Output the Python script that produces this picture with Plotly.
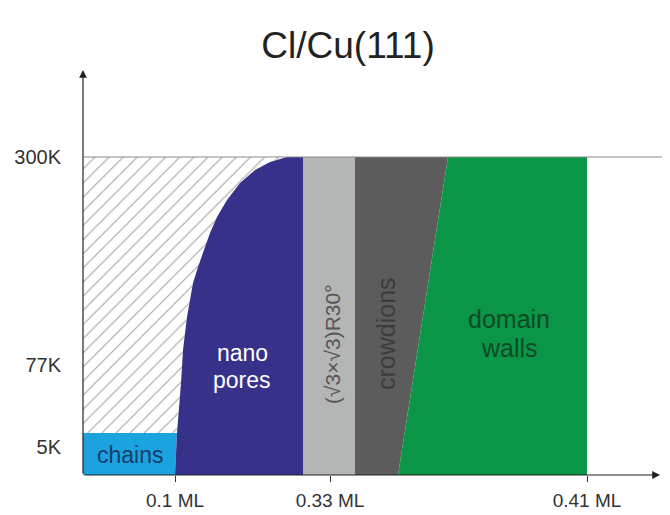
"""Schematic phase diagram of Cl/Cu(111): coverage vs temperature."""

import plotly.graph_objects as go

# schematic axis positions (arbitrary units)
X_TICK_POS = [92, 247, 504]
X_TICK_TEXT = ["0.1 ML", "0.33 ML", "0.41 ML"]
Y_TICK_POS = [318, 110, 28]
Y_TICK_TEXT = ["300K", "77K", "5K"]

T_TOP = 318          # 300K line
CHAIN_TOP = 42       # upper edge of the chains phase
X_END = 577          # end of coverage arrow
Y_END = 405          # end of temperature arrow

# left boundary of the nano pore phase (bottom -> top)
PORE_EDGE_X = [92, 94, 98, 100, 104, 110, 115, 121, 127, 134, 144, 157, 172, 187, 204]
PORE_EDGE_Y = [0, 42, 92, 125, 158, 192, 208, 225, 242, 258, 275, 292, 305, 313, 318]

X_PORE_RIGHT = 220
X_R30_RIGHT = 272
CROWD_EDGE_BOTTOM = 315
CROWD_EDGE_TOP = 365
X_DOMAIN_RIGHT = 504

FONT = "Arial, Liberation Sans, sans-serif"

# the page body adds an 8 px margin, so the figure is drawn 8 px smaller
W, H = 662, 507

fig = go.Figure()

# hatched (disordered) region
fig.add_trace(go.Scatter(
    x=[0, 0] + PORE_EDGE_X[1:][::-1],
    y=[CHAIN_TOP, T_TOP] + PORE_EDGE_Y[1:][::-1],
    fill="toself", mode="lines", line=dict(width=0, color="rgba(0,0,0,0)"),
    fillcolor="white",
    fillpattern=dict(shape="/", size=10, solidity=0.11, fgcolor="#444", bgcolor="white"),
    hoverinfo="skip", showlegend=False,
))

# chains
fig.add_trace(go.Scatter(
    x=[0, PORE_EDGE_X[0], PORE_EDGE_X[1], 0], y=[0, 0, CHAIN_TOP, CHAIN_TOP],
    fill="toself", mode="lines", line=dict(width=0), fillcolor="#1aa3df",
    hoverinfo="skip", showlegend=False,
))

# nano pores
fig.add_trace(go.Scatter(
    x=PORE_EDGE_X + [X_PORE_RIGHT, X_PORE_RIGHT],
    y=PORE_EDGE_Y + [T_TOP, 0],
    fill="toself", mode="lines", line=dict(width=0),
    fillcolor="#37318a", hoverinfo="skip", showlegend=False,
))

# (sqrt3 x sqrt3)R30
fig.add_trace(go.Scatter(
    x=[X_PORE_RIGHT, X_R30_RIGHT, X_R30_RIGHT, X_PORE_RIGHT], y=[0, 0, T_TOP, T_TOP],
    fill="toself", mode="lines", line=dict(width=0), fillcolor="#b4b6b5",
    hoverinfo="skip", showlegend=False,
))

# crowdions
fig.add_trace(go.Scatter(
    x=[X_R30_RIGHT, CROWD_EDGE_BOTTOM, CROWD_EDGE_TOP, X_R30_RIGHT], y=[0, 0, T_TOP, T_TOP],
    fill="toself", mode="lines", line=dict(width=0), fillcolor="#5c5c5c",
    hoverinfo="skip", showlegend=False,
))

# domain walls
fig.add_trace(go.Scatter(
    x=[CROWD_EDGE_BOTTOM, X_DOMAIN_RIGHT, X_DOMAIN_RIGHT, CROWD_EDGE_TOP],
    y=[0, 0, T_TOP, T_TOP],
    fill="toself", mode="lines", line=dict(width=0), fillcolor="#0a9646",
    hoverinfo="skip", showlegend=False,
))

# 300K line
fig.add_trace(go.Scatter(
    x=[0, 587], y=[T_TOP, T_TOP], mode="lines",
    line=dict(color="#8a8a8a", width=1), hoverinfo="skip", showlegend=False,
))

# axes with arrows
for tx, ty in [(X_END, 0), (0, Y_END)]:
    fig.add_annotation(
        x=tx, y=ty, ax=0, ay=0, xref="x", yref="y", axref="x", ayref="y",
        showarrow=True, arrowhead=2, arrowsize=1.3, arrowwidth=1.2,
        arrowcolor="#222", text="",
    )

labels = [
    (47, 20, "chains", "#1b3c6c", 0, 23),
    (159, 122, "nano", "white", 0, 23),
    (159, 95, "pores", "white", 0, 23),
    (249, 131, "(\u221a3\u00d7\u221a3)R30\u00b0", "#555555", -90, 21),
    (303, 141, "crowdions", "#3c3c3c", -90, 25),
    (426, 156, "domain", "#0d4a24", 0, 25),
    (426, 127, "walls", "#0d4a24", 0, 25),
]
for lx, ly, txt, col, ang, sz in labels:
    fig.add_annotation(
        x=lx, y=ly, text=txt, showarrow=False, textangle=ang,
        font=dict(family=FONT, size=sz, color=col),
    )

fig.update_layout(
    width=W, height=H,
    margin=dict(l=75, r=0, t=62, b=40),
    paper_bgcolor="white", plot_bgcolor="white",
    title=dict(
        text="Cl/Cu(111)", x=340 / W, xref="container", xanchor="center",
        y=1 - 37 / H, yref="container", yanchor="middle",
        font=dict(family=FONT, size=37, color="#222"),
    ),
    font=dict(family=FONT, color="#333"),
)
fig.update_xaxes(
    range=[0, 587], tickvals=X_TICK_POS, ticktext=X_TICK_TEXT,
    ticks="outside", ticklen=6, tickcolor="#333", tickfont=dict(size=19),
    ticklabelstandoff=2,
    showgrid=False, zeroline=False, showline=False, fixedrange=True,
)
fig.update_yaxes(
    range=[0, 405], tickvals=Y_TICK_POS, ticktext=Y_TICK_TEXT,
    ticks="", ticklabelstandoff=21, tickfont=dict(size=20),
    showgrid=False, zeroline=False, showline=False, fixedrange=True,
)

fig.write_html("out.html")
